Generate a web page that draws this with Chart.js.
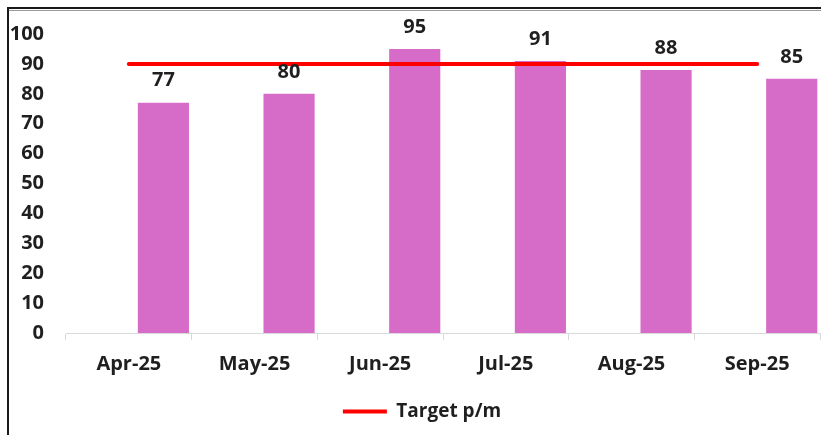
<!DOCTYPE html>
<html>
<head>
<meta charset="utf-8">
<script src="https://cdn.jsdelivr.net/npm/chart.js@4/dist/chart.umd.min.js"></script>
<style>
  html, body { margin: 0; padding: 0; background: #ffffff; }
  canvas { display: block; }
</style>
</head>
<body>
<canvas id="chart" width="821" height="435"></canvas>
<script>
// Monthly figures
const months = ['Apr-25', 'May-25', 'Jun-25', 'Jul-25', 'Aug-25', 'Sep-25'];
const achieved = [77, 80, 95, 91, 88, 85];
const target = [90, 90, 90, 90, 90, 90];
const targetLabel = 'Target p/m';

// Value axis
const yMin = 0;
const yMax = 100;
const yStep = 10;

const FONT = "'Open Sans', 'Liberation Sans', sans-serif";
const TEXT = '#1f1f1f';
const BAR = '#d66cc8';
const LINE = '#ff0000';
const AXIS = '#d9d9d9';

// White page plus the frame lines along the top and left edges
const framePlugin = {
  id: 'frame',
  beforeDraw(chart) {
    const { ctx, width, height } = chart;
    ctx.save();
    ctx.fillStyle = '#ffffff';
    ctx.fillRect(0, 0, width, height);
    ctx.restore();
  },
  afterDraw(chart) {
    const { ctx, width, height } = chart;
    ctx.save();
    ctx.strokeStyle = '#1a1a1a';
    ctx.lineWidth = 2;
    ctx.beginPath();
    ctx.moveTo(8, 8);
    ctx.lineTo(width, 8);
    ctx.moveTo(8, 7);
    ctx.lineTo(8, height);
    ctx.stroke();
    ctx.strokeStyle = '#9a9a9a';
    ctx.lineWidth = 1;
    ctx.beginPath();
    ctx.moveTo(9, 10.5);
    ctx.lineTo(width, 10.5);
    ctx.stroke();
    ctx.restore();
  }
};

// Centre the legend under the plot area rather than the whole canvas
const legendShift = {
  id: 'legendShift',
  afterLayout(chart) {
    if (chart.legend) {
      chart.legend.left += 24;
    }
  }
};

// Value printed above each bar
const valueLabels = {
  id: 'valueLabels',
  afterDatasetsDraw(chart) {
    const idx = chart.data.datasets.findIndex(d => d.id === 'achieved');
    const meta = chart.getDatasetMeta(idx);
    const ctx = chart.ctx;
    ctx.save();
    ctx.font = `bold 20px ${FONT}`;
    ctx.fillStyle = TEXT;
    ctx.textAlign = 'center';
    ctx.textBaseline = 'middle';
    meta.data.forEach((bar, i) => {
      ctx.fillText(String(achieved[i]), bar.x, bar.y - 22);
    });
    ctx.restore();
  }
};

new Chart(document.getElementById('chart'), {
  data: {
    labels: months,
    datasets: [
      {
        type: 'line',
        id: 'target',
        label: targetLabel,
        data: target,
        borderColor: LINE,
        backgroundColor: LINE,
        borderWidth: 4,
        borderCapStyle: 'round',
        pointRadius: 0,
        pointHoverRadius: 0,
        order: 0
      },
      {
        // empty first slot: the bars sit in the right half of each category
        type: 'bar',
        id: 'slot',
        label: '',
        data: months.map(() => null),
        backgroundColor: 'rgba(0,0,0,0)',
        order: 1
      },
      {
        type: 'bar',
        id: 'achieved',
        label: 'Achieved',
        data: achieved,
        backgroundColor: BAR,
        borderWidth: 0,
        order: 1
      }
    ]
  },
  options: {
    responsive: false,
    animation: false,
    devicePixelRatio: 1,
    datasets: {
      bar: { categoryPercentage: 1.1, barPercentage: 0.74 }
    },
    layout: { padding: { left: 0, right: 1, top: 30, bottom: 4 } },
    scales: {
      x: {
        offset: true,
        grid: {
          display: true,
          offset: true,
          drawOnChartArea: false,
          drawTicks: true,
          tickLength: 7,
          color: AXIS,
          lineWidth: 1
        },
        border: { display: true, color: AXIS, width: 1 },
        ticks: {
          color: TEXT,
          font: { family: FONT, size: 20, weight: 'bold' },
          padding: 12,
          maxRotation: 0
        }
      },
      y: {
        min: yMin,
        max: yMax,
        afterFit(scale) { scale.width = 66; },
        grid: { display: false, drawTicks: false },
        border: { display: false },
        ticks: {
          stepSize: yStep,
          color: TEXT,
          font: { family: FONT, size: 20, weight: 'bold' },
          padding: 22
        }
      }
    },
    plugins: {
      tooltip: { enabled: false },
      legend: {
        display: true,
        position: 'bottom',
        labels: {
          filter: item => item.text === targetLabel,
          usePointStyle: true,
          pointStyle: 'line',
          pointStyleWidth: 44,
          color: TEXT,
          font: { family: FONT, size: 19, weight: 'bold' },
          padding: 14
        }
      }
    }
  },
  plugins: [framePlugin, legendShift, valueLabels]
});
</script>
</body>
</html>
